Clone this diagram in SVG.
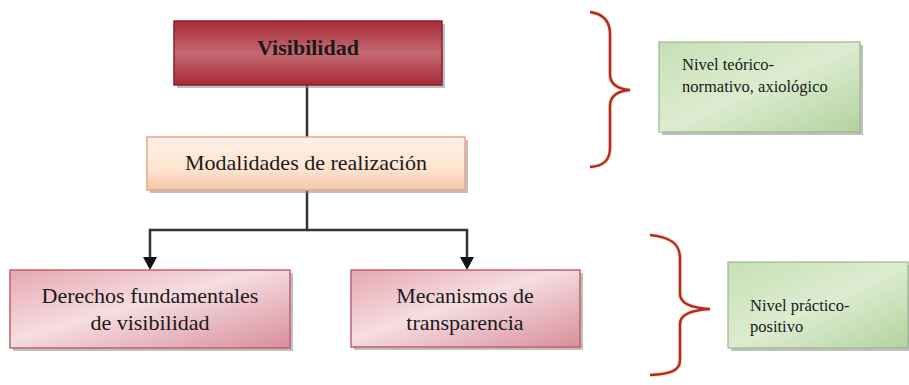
<svg xmlns="http://www.w3.org/2000/svg" width="909" height="385" viewBox="0 0 909 385">
<defs>
<linearGradient id="gRed" x1="0" y1="0" x2="0" y2="1">
<stop offset="0" stop-color="#a82c3a"/>
<stop offset="0.5" stop-color="#c46a72"/>
<stop offset="1" stop-color="#a52a38"/>
</linearGradient>
<linearGradient id="gPeach" x1="0" y1="0" x2="0" y2="1">
<stop offset="0" stop-color="#fdf1e6"/>
<stop offset="0.6" stop-color="#fde4d0"/>
<stop offset="1" stop-color="#f6c7a8"/>
</linearGradient>
<linearGradient id="gPink" x1="0" y1="0" x2="1" y2="1">
<stop offset="0" stop-color="#e7a7b1"/>
<stop offset="0.45" stop-color="#f5dde1"/>
<stop offset="1" stop-color="#d98e9b"/>
</linearGradient>
<linearGradient id="gGreen" x1="0" y1="0" x2="1" y2="1">
<stop offset="0" stop-color="#c6e0b4"/>
<stop offset="0.5" stop-color="#dcecd0"/>
<stop offset="1" stop-color="#b3d29f"/>
</linearGradient>
<marker id="arr" markerWidth="14" markerHeight="13" refX="7" refY="11" orient="auto-start-reverse" markerUnits="userSpaceOnUse" viewBox="0 0 14 13">
<path d="M0,0 L14,0 L7,13 Z" fill="#111"/>
</marker>
</defs>
<style>
.shadow{fill:#8c8c8c;opacity:0.55}
text{font-family:'Liberation Serif','DejaVu Serif',serif;fill:#1a1a1a}
.big{font-size:22px}
.small{font-size:16.5px}
.conn{fill:none;stroke:#333;stroke-width:2.5}
.brace{fill:none;stroke:#b3263a;stroke-width:2.5}
.braceglow{fill:none;stroke:#f2e27a;stroke-width:4.5;opacity:0.6}
</style>
<rect width="909" height="385" fill="#ffffff"/>

<g id="connectors">
<path class="conn" d="M307,85 L307,137"/>
<path class="conn" d="M307,190 L307,230 L150,230 L150,258"/>
<path class="conn" d="M307,230 L467,230 L467,258"/>
<path d="M143,257 L157,257 L150,270 Z" fill="#111"/>
<path d="M460,257 L474,257 L467,270 Z" fill="#111"/>
</g>

<g id="node-visibilidad">
<rect class="shadow" x="177" y="24" width="268" height="64"/>
<rect x="174" y="21" width="268" height="64" fill="url(#gRed)" stroke="#8a1f2b" stroke-width="1.5"/>
<text class="big" font-family="Liberation Serif, serif" x="308" y="55" text-anchor="middle" font-weight="bold">Visibilidad</text>
</g>

<g id="node-modalidades">
<rect class="shadow" x="150" y="140" width="318" height="53"/>
<rect x="147" y="137" width="318" height="53" fill="url(#gPeach)" stroke="#eba487" stroke-width="1.5"/>
<text class="big" font-family="Liberation Serif, serif" x="306" y="170" text-anchor="middle">Modalidades de realización</text>
</g>

<g id="node-derechos">
<rect class="shadow" x="13" y="273" width="280" height="78"/>
<rect x="10" y="270" width="280" height="78" fill="url(#gPink)" stroke="#c0606e" stroke-width="1.5"/>
<text class="big" font-family="Liberation Serif, serif" x="150" y="303" text-anchor="middle">Derechos fundamentales</text>
<text class="big" font-family="Liberation Serif, serif" x="150" y="330" text-anchor="middle">de visibilidad</text>
</g>

<g id="node-mecanismos">
<rect class="shadow" x="354" y="273" width="229" height="77"/>
<rect x="351" y="270" width="229" height="77" fill="url(#gPink)" stroke="#c0606e" stroke-width="1.5"/>
<text class="big" font-family="Liberation Serif, serif" x="465" y="303" text-anchor="middle">Mecanismos de</text>
<text class="big" font-family="Liberation Serif, serif" x="465" y="330" text-anchor="middle">transparencia</text>
</g>

<g id="brace-1">
<path class="braceglow" d="M590,12 C604,14 610,22 610,34 L610,74 C610,84 618,89 630,90 C618,91 610,96 610,106 L610,148 C610,160 604,166 590,167"/>
<path class="brace" d="M590,12 C604,14 610,22 610,34 L610,74 C610,84 618,89 630,90 C618,91 610,96 610,106 L610,148 C610,160 604,166 590,167"/>
</g>

<g id="brace-2">
<path class="braceglow" d="M650,235 C672,237 680,245 680,258 L680,294 C680,304 692,308 710,309 C692,310 680,314 680,324 L680,360 C680,370 672,374 650,375"/>
<path class="brace" d="M650,235 C672,237 680,245 680,258 L680,294 C680,304 692,308 710,309 C692,310 680,314 680,324 L680,360 C680,370 672,374 650,375"/>
</g>

<g id="node-nivel-teorico">
<rect class="shadow" x="662" y="45" width="201" height="90"/>
<rect x="659" y="42" width="201" height="90" fill="url(#gGreen)" stroke="#9ab88c" stroke-width="1.2"/>
<text class="small" font-family="Liberation Serif, serif" x="682" y="70">Nivel teórico-</text>
<text class="small" font-family="Liberation Serif, serif" x="682" y="92">normativo, axiológico</text>
</g>

<g id="node-nivel-practico">
<rect class="shadow" x="731" y="265" width="180" height="86"/>
<rect x="728" y="262" width="180" height="86" fill="url(#gGreen)" stroke="#9ab88c" stroke-width="1.2"/>
<text class="small" font-family="Liberation Serif, serif" x="750" y="311">Nivel práctico-</text>
<text class="small" font-family="Liberation Serif, serif" x="750" y="332">positivo</text>
</g>
</svg>
